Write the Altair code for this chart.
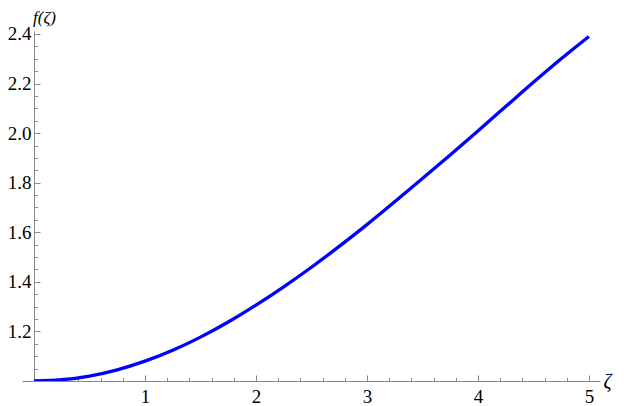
import altair as alt
import pandas as pd

# data
zeta = [0.0, 0.25, 0.5, 0.75, 1.0, 1.25, 1.5, 1.75, 2.0, 2.25, 2.5,
        2.75, 3.0, 3.25, 3.5, 3.75, 4.0, 4.25, 4.5, 4.75, 5.0]
f_vals = [1.000, 1.005, 1.020, 1.045, 1.080, 1.124, 1.177, 1.238, 1.306, 1.380, 1.459,
          1.543, 1.631, 1.723, 1.817, 1.912, 2.009, 2.107, 2.205, 2.300, 2.390]

x_major = [1, 2, 3, 4, 5]
x_minor = [0.2, 0.4, 0.6, 0.8, 1.2, 1.4, 1.6, 1.8, 2.2, 2.4, 2.6, 2.8,
           3.2, 3.4, 3.6, 3.8, 4.2, 4.4, 4.6, 4.8, 5.0]
y_major = [1.2, 1.4, 1.6, 1.8, 2.0, 2.2, 2.4]
y_minor = [1.05, 1.1, 1.15, 1.25, 1.3, 1.35, 1.45, 1.5, 1.55, 1.65, 1.7, 1.75,
           1.85, 1.9, 1.95, 2.05, 2.1, 2.15, 2.25, 2.3, 2.35]

df = pd.DataFrame({"zeta": zeta, "f": f_vals})

XDOM = [-0.108, 5.1]
YDOM = [1.0, 2.412]
W, H = 578, 350
Y_POS = W * (0 - XDOM[0]) / (XDOM[1] - XDOM[0])  # pixel of zeta = 0
GRAY = "#8a8a8a"
FONT = "Liberation Serif"

xs = alt.Scale(domain=XDOM, nice=False, zero=False)
ys = alt.Scale(domain=YDOM, nice=False, zero=False)

line = alt.Chart(df).mark_line(
    color="#0000ff", strokeWidth=3.3, interpolate="monotone", clip=True
).encode(
    x=alt.X("zeta:Q", scale=xs, axis=alt.Axis(
        orient="bottom", values=x_major, ticks=False, domain=True,
        domainColor=GRAY, domainWidth=1, grid=False, labelFlush=False,
        labelFont=FONT, labelFontSize=19, labelColor="black", labelPadding=6,
        title="ζ", titleFont=FONT, titleFontSize=20, titleFontStyle="italic",
        titleFontWeight="normal", titleColor="black", titleX=581, titleY=6,
        titleAlign="left", titleBaseline="alphabetic")),
    y=alt.Y("f:Q", scale=ys, axis=alt.Axis(
        orient="left", offset=-Y_POS, values=y_major, format=".1f",
        ticks=False, domain=True, domainColor=GRAY, domainWidth=1, grid=False,
        labelFlush=False, labelFont=FONT, labelFontSize=19, labelColor="black",
        labelPadding=3,
        title="f(ζ)", titleFont=FONT, titleFontSize=17, titleFontStyle="italic",
        titleFontWeight="normal", titleColor="black", titleAngle=0,
        titleX=10, titleY=-9, titleAlign="center", titleBaseline="alphabetic")),
)

major = alt.Chart(df).mark_line(opacity=0).encode(
    x=alt.X("zeta:Q", scale=xs, axis=alt.Axis(
        orient="top", offset=-H, values=x_major, labels=False, domain=False,
        ticks=True, tickSize=6, tickColor=GRAY, tickWidth=1, grid=False, title=None)),
    y=alt.Y("f:Q", scale=ys, axis=alt.Axis(
        orient="right", offset=Y_POS - W, values=y_major, labels=False, domain=False,
        ticks=True, tickSize=6, tickColor=GRAY, tickWidth=1, grid=False, title=None)),
)

minor = alt.Chart(df).mark_line(opacity=0).encode(
    x=alt.X("zeta:Q", scale=xs, axis=alt.Axis(
        orient="top", offset=-H, values=x_minor, labels=False, domain=False,
        ticks=True, tickSize=3.5, tickColor=GRAY, tickWidth=1, grid=False, title=None)),
    y=alt.Y("f:Q", scale=ys, axis=alt.Axis(
        orient="right", offset=Y_POS - W, values=y_minor, labels=False, domain=False,
        ticks=True, tickSize=3.5, tickColor=GRAY, tickWidth=1, grid=False, title=None)),
)

chart = alt.layer(line, major, minor).resolve_axis(
    x="independent", y="independent"
).properties(
    width=W, height=H,
    autosize=alt.AutoSizeParams(type="none"),
    padding={"left": 14, "top": 23, "right": 16, "bottom": 26},
).configure_view(stroke=None)

chart.save("out.html", embed_options={"renderer": "svg", "actions": False})
